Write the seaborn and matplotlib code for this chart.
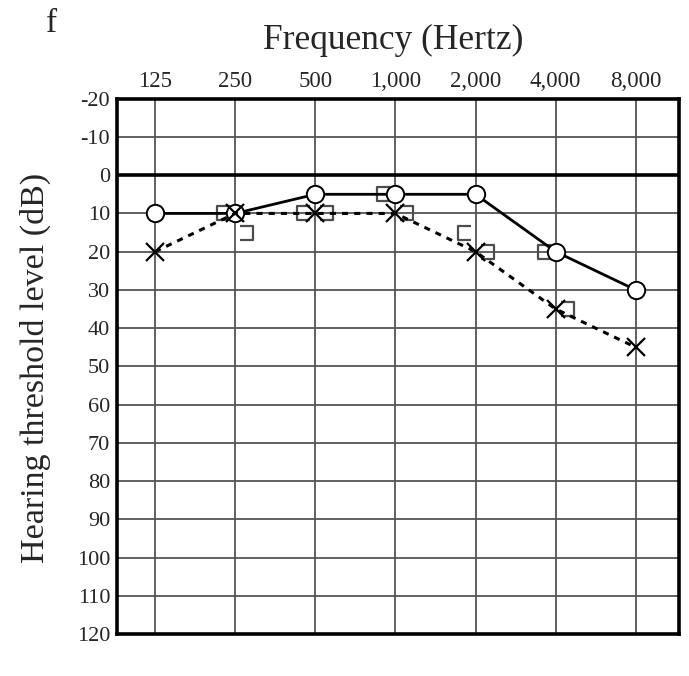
import numpy as np
import pandas as pd
import matplotlib
matplotlib.use("Agg")
import matplotlib.pyplot as plt
import seaborn as sns
from matplotlib.path import Path
from matplotlib.markers import MarkerStyle

freqs = [125, 250, 500, 1000, 2000, 4000, 8000]
freq_labels = ["125", "250", "500", "1,000", "2,000", "4,000", "8,000"]
right_air = [10, 10, 5, 5, 5, 20, 30]
left_air = [20, 10, 10, 10, 20, 35, 45]
right_bone_f = [250, 500, 1000, 2000, 4000]
right_bone = [10, 10, 5, 15, 20]
left_bone_f = [250, 500, 1000, 2000, 4000]
left_bone = [15, 10, 10, 20, 35]
db_ticks = list(range(-20, 121, 10))

sns.set_style("white")
plt.rcParams["font.family"] = ["Liberation Serif", "DejaVu Serif"]

fig = plt.figure(figsize=(6.89, 6.76), dpi=100)
ax = fig.add_axes([0.170, 0.062, 0.815, 0.792])

ax.set_xscale("log", base=2)
ax.set_xlim(125 * 2 ** -0.474, 8000 * 2 ** 0.536)
ax.set_ylim(120, -20)

for f in freqs:
    ax.axvline(f, color="#555555", lw=1.3, zorder=1)
for d in db_ticks:
    ax.axhline(d, color="#555555", lw=1.3, zorder=1)
ax.axhline(0, color="black", lw=2.6, zorder=2)

df_r = pd.DataFrame({"f": freqs, "db": right_air})
df_l = pd.DataFrame({"f": freqs, "db": left_air})
sns.lineplot(data=df_l, x="f", y="db", ax=ax, color="black", lw=2.2,
             linestyle=(0, (2, 2)), marker="x", markersize=13,
             markeredgecolor="black", markeredgewidth=1.6, zorder=5)
sns.lineplot(data=df_r, x="f", y="db", ax=ax, color="black", lw=2,
             marker="o", markersize=12.5, markerfacecolor="white",
             markeredgecolor="black", markeredgewidth=1.4, zorder=4)

# bone conduction brackets, drawn beside the frequency line
lb = Path([(-4, 6), (-16, 6), (-16, -6), (-4, -6)],
          [Path.MOVETO, Path.LINETO, Path.LINETO, Path.LINETO])
rb = Path([(4, 6), (16, 6), (16, -6), (4, -6)],
          [Path.MOVETO, Path.LINETO, Path.LINETO, Path.LINETO])
ax.plot(right_bone_f, right_bone, ls="none", marker=MarkerStyle(lb),
        markersize=26, markerfacecolor="none", markeredgecolor="#4d4d4d",
        markeredgewidth=1.6, zorder=3)
ax.plot(left_bone_f, left_bone, ls="none", marker=MarkerStyle(rb),
        markersize=26, markerfacecolor="none", markeredgecolor="#4d4d4d",
        markeredgewidth=1.6, zorder=3)

ax.xaxis.tick_top()
ax.set_xticks(freqs)
ax.set_xticklabels(freq_labels)
ax.minorticks_off()
ax.set_yticks(db_ticks)
ax.set_yticklabels([str(d) for d in db_ticks])
ax.tick_params(axis="x", length=0, labelsize=16.5, pad=5)
ax.tick_params(axis="y", length=0, labelsize=16, pad=5)
ax.set_xlabel("")
ax.set_ylabel("Hearing threshold level (dB)", fontsize=24.5)
ax.yaxis.set_label_coords(-0.118, 0.498)

for s in ax.spines.values():
    s.set_visible(True)
    s.set_color("black")
    s.set_linewidth(2.6)

fig.text(0.571, 0.94, "Frequency (Hertz)", ha="center", va="center", fontsize=25.5)
fig.text(0.075, 0.965, "f", ha="center", va="center", fontsize=24)

fig.savefig("out.png", dpi=100, facecolor="white")
